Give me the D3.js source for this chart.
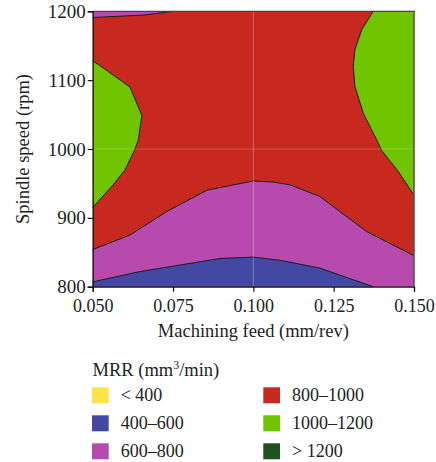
<!DOCTYPE html>
<html>
<head>
<meta charset="utf-8">
<script src="https://cdn.jsdelivr.net/npm/d3@7"></script>
<style>
  html, body { margin: 0; padding: 0; background: #fff; }
  svg { display: block; font-family: "Liberation Serif", "DejaVu Serif", serif; }
</style>
</head>
<body>
<svg id="chart" width="436" height="462"></svg>
<script>
// Axis ticks
const feedTicks = [0.050, 0.075, 0.100, 0.125, 0.150];
const speedTicks = [800, 900, 1000, 1100, 1200];

// MRR bands (mm^3/min)
const bandLabels = ["< 400", "400–600", "600–800", "800–1000", "1000–1200", "> 1200"];
const bandColors = ["#fbe34a", "#4349a3", "#b94aad", "#c8291e", "#70c400", "#1f5220"];

// Contour lines, as [feed (mm/rev), spindle speed (rpm)]
const contour600 = [[0.050, 807], [0.0647, 822], [0.0896, 841], [0.100, 843], [0.1088, 838],
  [0.1207, 827], [0.1373, 800]];
const contour800 = [[0.050, 854], [0.0616, 875], [0.073, 909], [0.0855, 940], [0.0896, 944],
  [0.100, 953.5], [0.1062, 952], [0.1114, 948], [0.1207, 931], [0.1353, 880], [0.150, 845]];
const contour800Top = [[0.050, 1191], [0.0658, 1194.5], [0.0751, 1200]];
const contour1000Left = [[0.050, 1128], [0.0523, 1121], [0.0616, 1090], [0.0653, 1049],
  [0.0642, 1013], [0.0630, 998], [0.0601, 970], [0.0564, 948], [0.050, 915]];
const contour1000Right = [[0.1373, 1200], [0.1337, 1173], [0.1316, 1144], [0.1311, 1120],
  [0.1316, 1091], [0.1342, 1052], [0.1384, 1013], [0.1399, 998], [0.1450, 968], [0.150, 933]];

const svg = d3.select("#chart");
const margin = { left: 92.7, right: 22, top: 11.3, bottom: 175.3 };
const W = 436, H = 462;
const x = d3.scaleLinear().domain([0.050, 0.150]).range([margin.left, W - margin.right]);
const y = d3.scaleLinear().domain([800, 1200]).range([H - margin.bottom, margin.top]);
const color = d3.scaleOrdinal(bandLabels, bandColors);

const line = d3.line().x(d => x(d[0])).y(d => y(d[1]));
const poly = pts => line(pts) + "Z";

const plot = svg.append("g");

// Base band covering the plot
plot.append("rect")
  .attr("x", x(0.050)).attr("y", y(1200))
  .attr("width", x(0.150) - x(0.050)).attr("height", y(800) - y(1200))
  .attr("fill", color("800–1000"));

// Filled regions
const regions = [
  { pts: contour800.concat([[0.150, 800], [0.050, 800]]), band: "600–800" },
  { pts: contour600.concat([[0.050, 800]]), band: "400–600" },
  { pts: contour800Top.concat([[0.050, 1200]]), band: "600–800" },
  { pts: contour1000Left, band: "1000–1200" },
  { pts: contour1000Right.concat([[0.150, 1200]]), band: "1000–1200" }
];
plot.selectAll("path.region").data(regions).join("path")
  .attr("class", "region")
  .attr("d", d => poly(d.pts))
  .attr("fill", d => color(d.band));

// Contour lines
plot.selectAll("path.contour")
  .data([contour600, contour800, contour800Top, contour1000Left, contour1000Right])
  .join("path")
  .attr("class", "contour")
  .attr("d", line)
  .attr("fill", "none")
  .attr("stroke", "#1a1a1a")
  .attr("stroke-width", 1);

// Faint reference gridlines
plot.append("line")
  .attr("x1", x(0.100)).attr("x2", x(0.100)).attr("y1", y(1200)).attr("y2", y(800))
  .attr("stroke", "#fff").attr("stroke-opacity", 0.28).attr("stroke-width", 1);
plot.append("line")
  .attr("x1", x(0.050)).attr("x2", x(0.150)).attr("y1", y(1000)).attr("y2", y(1000))
  .attr("stroke", "#fff").attr("stroke-opacity", 0.18).attr("stroke-width", 1);

// Frame: top and right edges
svg.append("line")
  .attr("x1", x(0.050)).attr("x2", x(0.150) + 1).attr("y1", y(1200)).attr("y2", y(1200))
  .attr("stroke", "#444").attr("stroke-width", 1.2);
svg.append("line")
  .attr("x1", x(0.150)).attr("x2", x(0.150)).attr("y1", y(1200)).attr("y2", y(800))
  .attr("stroke", "#555").attr("stroke-width", 1.6);

// Axes
const xAxis = svg.append("g")
  .attr("transform", `translate(0,${y(800)})`)
  .call(d3.axisBottom(x).tickValues(feedTicks).tickFormat(d3.format(".3f")).tickSize(5).tickPadding(8));
const yAxis = svg.append("g")
  .attr("transform", `translate(${x(0.050)},0)`)
  .call(d3.axisLeft(y).tickValues(speedTicks).tickFormat(d3.format("d")).tickSize(5).tickPadding(2));
[xAxis, yAxis].forEach(g => {
  g.select(".domain").attr("stroke", "#111").attr("stroke-width", 1.2);
  g.selectAll(".tick line").attr("stroke", "#111").attr("stroke-width", 1.2);
  g.selectAll(".tick text").attr("fill", "#222").style("font-size", "18px")
    .style("font-family", "Liberation Serif, DejaVu Serif, serif");
});
yAxis.selectAll(".tick text").style("font-size", "19px");

// Axis titles
svg.append("text")
  .attr("x", (x(0.050) + x(0.150)) / 2).attr("y", 337)
  .attr("text-anchor", "middle").attr("fill", "#222").style("font-size", "18.5px")
  .text("Machining feed (mm/rev)");
svg.append("text")
  .attr("transform", `translate(29,${(y(800) + y(1200)) / 2}) rotate(-90)`)
  .attr("text-anchor", "middle").attr("fill", "#222").style("font-size", "18.5px")
  .text("Spindle speed (rpm)");

// Legend
const legend = svg.append("g");
const title = legend.append("text")
  .attr("x", 92.5).attr("y", 376).attr("fill", "#222").style("font-size", "18.5px");
title.append("tspan").text("MRR (mm");
title.append("tspan").attr("dy", -7).style("font-size", "12px").text("3");
title.append("tspan").attr("dy", 7).text("/min)");

const items = legend.selectAll("g.item").data(bandLabels).join("g")
  .attr("class", "item")
  .attr("transform", (d, i) => `translate(${i < 3 ? 92 : 263.3},${387.3 + (i % 3) * 28})`);
items.append("rect").attr("width", 16.7).attr("height", 16)
  .attr("fill", d => color(d));
items.append("text").attr("x", 28.7).attr("y", 14)
  .attr("fill", "#222").style("font-size", "18px")
  .text(d => d);
</script>
</body>
</html>
